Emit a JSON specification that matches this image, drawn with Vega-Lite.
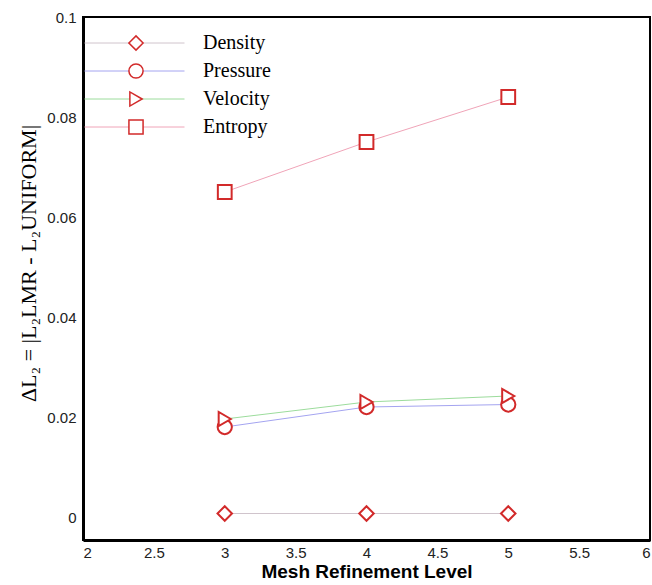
{
  "$schema": "https://vega.github.io/schema/vega-lite/v6.json",
  "width": 567,
  "height": 523,
  "autosize": {"type": "none"},
  "padding": {"left": 83, "top": 17, "right": 2, "bottom": 45},
  "background": "white",
  "config": {
    "view": {"stroke": "black", "strokeWidth": 2},
    "axis": {
      "domainColor": "black",
      "domainWidth": 3,
      "ticks": false,
      "grid": false,
      "labelFont": "Liberation Sans",
      "labelFontSize": 15,
      "labelColor": "#222222",
      "format": "~g"
    }
  },
  "data": {
    "values": [
      {"series": "Density", "level": 3, "value": 0.0007},
      {"series": "Density", "level": 4, "value": 0.0007},
      {"series": "Density", "level": 5, "value": 0.0007},
      {"series": "Pressure", "level": 3, "value": 0.018},
      {"series": "Pressure", "level": 4, "value": 0.022},
      {"series": "Pressure", "level": 5, "value": 0.0225},
      {"series": "Velocity", "level": 3, "value": 0.0196},
      {"series": "Velocity", "level": 4, "value": 0.023},
      {"series": "Velocity", "level": 5, "value": 0.0242},
      {"series": "Entropy", "level": 3, "value": 0.065},
      {"series": "Entropy", "level": 4, "value": 0.075},
      {"series": "Entropy", "level": 5, "value": 0.084}
    ]
  },
  "encoding": {
    "x": {
      "field": "level",
      "type": "quantitative",
      "scale": {"domain": [2, 6], "nice": false, "zero": false},
      "axis": {
        "values": [2, 2.5, 3, 3.5, 4, 4.5, 5, 5.5, 6],
        "labelPadding": 5,
        "title": "Mesh Refinement Level",
        "titleFont": "Liberation Sans",
        "titleFontSize": 19,
        "titleFontWeight": "bold",
        "titleColor": "black",
        "titlePadding": 2
      }
    },
    "y": {
      "field": "value",
      "type": "quantitative",
      "scale": {"domain": [-0.0046, 0.1], "nice": false, "zero": false},
      "axis": {
        "values": [0, 0.02, 0.04, 0.06, 0.08, 0.1],
        "labelPadding": 7,
        "title": "ΔL₂ = |L₂LMR - L₂UNIFORM|",
        "titleFont": "Liberation Serif",
        "titleFontSize": 22,
        "titleFontWeight": "normal",
        "titleColor": "black",
        "titlePadding": 6,
        "titleY": 246
      }
    }
  },
  "layer": [
    {
      "mark": {"type": "line", "strokeWidth": 1},
      "encoding": {
        "color": {
          "field": "series",
          "type": "nominal",
          "scale": {
            "domain": ["Density", "Pressure", "Velocity", "Entropy"],
            "range": ["#d0c4cc", "#a4a4f0", "#9cdc9c", "#f0a4b8"]
          },
          "legend": {
            "orient": "none",
            "legendX": 1,
            "legendY": 12,
            "title": null,
            "padding": 0,
            "rowPadding": 0,
            "clipHeight": 28,
            "symbolType": "stroke",
            "symbolSize": 10000,
            "symbolStrokeWidth": 1,
            "labelOffset": 18,
            "labelFont": "Liberation Serif",
            "labelFontSize": 20,
            "labelColor": "black"
          }
        }
      }
    },
    {
      "mark": {"type": "point", "filled": true, "fill": "white", "stroke": "#d22a2a", "strokeWidth": 2, "opacity": 1},
      "encoding": {
        "shape": {
          "field": "series",
          "type": "nominal",
          "sort": ["Density", "Pressure", "Velocity", "Entropy"],
          "scale": {"range": ["diamond", "circle", "triangle-right", "square"]},
          "legend": {
            "orient": "none",
            "legendX": 45,
            "legendY": 12,
            "title": null,
            "padding": 0,
            "rowPadding": 0,
            "clipHeight": 28,
            "symbolSize": 200,
            "labelExpr": "''",
            "encode": {
              "symbols": {
                "update": {
                  "fill": {"value": "white"},
                  "stroke": {"value": "#d22a2a"},
                  "strokeWidth": {"value": 2},
                  "opacity": {"value": 1},
                  "size": {"scale": "size", "field": "value"}
                }
              }
            }
          }
        },
        "size": {
          "field": "series",
          "type": "nominal",
          "sort": ["Density", "Pressure", "Velocity", "Entropy"],
          "scale": {"range": [210, 190, 150, 140]},
          "legend": null
        }
      }
    }
  ]
}
